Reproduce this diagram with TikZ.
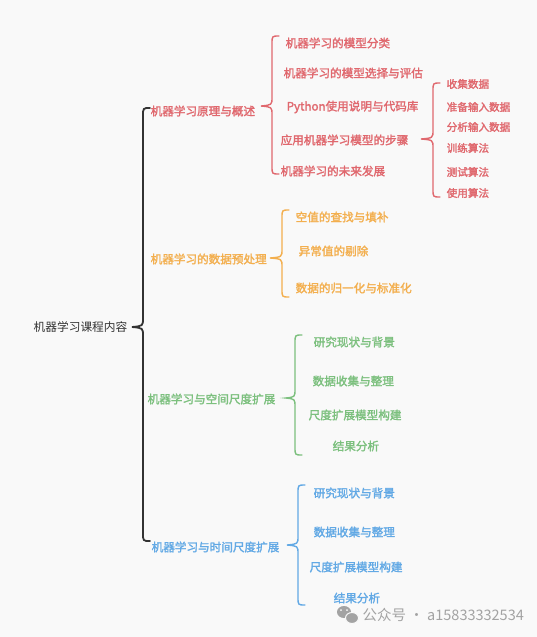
\documentclass[tikz,border=0pt]{standalone}
\usepackage{fontspec}
\setmainfont{Noto Sans CJK SC}
\newfontfamily\zhbold[FakeBold=2]{Noto Sans CJK SC}
\usepackage{tikz}
\usetikzlibrary{calc}
\definecolor{bgc}{HTML}{F9F9F9}
\definecolor{rootc}{HTML}{333333}
\definecolor{redc}{HTML}{E0686E}
\definecolor{orac}{HTML}{F3AF4E}
\definecolor{grnc}{HTML}{7CC07E}
\definecolor{bluc}{HTML}{62A9E5}
\definecolor{wmc}{HTML}{A3A3A3}
\tikzstyle{every node}=[inner sep=0pt,anchor=west]
\tikzstyle{lvl}=[font=\zhbold\fontsize{11.6}{13}\selectfont]
\tikzstyle{sub}=[font=\zhbold\fontsize{10.6}{12}\selectfont]
% curly brace: colour, top corner, tip, bottom corner
\newcommand{\mbrace}[4]{%
  \draw[#1] ($(#2)+(7,0)$) .. controls (#2) .. ($(#2)+(0,8)$)
    -- ($(#2|-#3)+(0,-9)$) .. controls ($(#2|-#3)+(0,-1)$) .. (#3)
    .. controls ($(#2|-#3)+(0,1)$) .. ($(#2|-#3)+(0,9)$)
    -- ($(#4)+(0,-8)$) .. controls (#4) .. ($(#4)+(7,0)$);}

\begin{document}
\begin{tikzpicture}[x=1pt,y=-1pt,line width=1.4pt,line cap=round]
\fill[bgc] (0,0) rectangle (537,637);
\useasboundingbox (0,0) rectangle (537,637);

% root
\node[font=\fontsize{11.7}{13}\selectfont,text=rootc] (root) at (33,327) {机器学习课程内容};
\coordinate (rt) at (143,108);
\coordinate (rm) at (132,327);
\coordinate (rb) at (143,541);
\mbrace{rootc,line width=1.8pt}{rt}{rm}{rb}

% first branch
\node[lvl,text=redc] (p1) at (150,111) {机器学习原理与概述};
\coordinate (p1t) at (272,36);
\coordinate (p1m) at (261,106);
\coordinate (p1b) at (272,174);
\mbrace{redc}{p1t}{p1m}{p1b}
\node[lvl,text=redc] (c11) at (285,43) {机器学习的模型分类};
\node[lvl,text=redc] (c12) at (283,73) {机器学习的模型选择与评估};
\node[lvl,text=redc] (c13) at (286,107) {Python使用说明与代码库};
\node[lvl,text=redc] (c14) at (280,140) {应用机器学习模型的步骤};
\node[lvl,text=redc] (c15) at (280,171) {机器学习的未来发展};
\coordinate (c14t) at (433,83);
\coordinate (c14m) at (421,139);
\coordinate (c14b) at (433,197);
\mbrace{redc}{c14t}{c14m}{c14b}
\node[sub,text=redc] (s1) at (446,84) {收集数据};
\node[sub,text=redc] (s2) at (446,107) {准备输入数据};
\node[sub,text=redc] (s3) at (446,127) {分析输入数据};
\node[sub,text=redc] (s4) at (446,148) {训练算法};
\node[sub,text=redc] (s5) at (446,172) {测试算法};
\node[sub,text=redc] (s6) at (446,193) {使用算法};

% second branch
\node[lvl,text=orac] (p2) at (150,259) {机器学习的数据预处理};
\coordinate (p2t) at (282,210);
\coordinate (p2m) at (270,258);
\coordinate (p2b) at (282,297);
\mbrace{orac}{p2t}{p2m}{p2b}
\node[lvl,text=orac] (c21) at (295,217) {空值的查找与填补};
\node[lvl,text=orac] (c22) at (298,251) {异常值的剔除};
\node[lvl,text=orac] (c23) at (295,288) {数据的归一化与标准化};

% third branch
\node[lvl,text=grnc] (p3) at (147,399) {机器学习与空间尺度扩展};
\coordinate (p3t) at (295,335);
\coordinate (p3m) at (286,398);
\coordinate (p3b) at (295,455);
\mbrace{grnc}{p3t}{p3m}{p3b}
\node[lvl,text=grnc] (c31) at (313,342) {研究现状与背景};
\node[lvl,text=grnc] (c32) at (312,381) {数据收集与整理};
\node[lvl,text=grnc] (c33) at (308,415) {尺度扩展模型构建};
\node[lvl,text=grnc] (c34) at (332,446) {结果分析};

% fourth branch
\node[lvl,text=bluc] (p4) at (151,547) {机器学习与时间尺度扩展};
\coordinate (p4t) at (298,485);
\coordinate (p4m) at (287,545);
\coordinate (p4b) at (298,605);
\mbrace{bluc}{p4t}{p4m}{p4b}
\node[lvl,text=bluc] (c41) at (313,493) {研究现状与背景};
\node[lvl,text=bluc] (c42) at (313,532) {数据收集与整理};
\node[lvl,text=bluc] (c43) at (309,567) {尺度扩展模型构建};
\node[lvl,text=bluc] (c44) at (333,598) {结果分析};

% watermark
\fill[wmc] (344,612) ellipse (7 and 6);
\fill[wmc,draw=bgc,line width=1pt] (352,618) ellipse (6.5 and 5.5);
\fill[bgc] (341,610) circle (1) (347,610) circle (1);
\node[font=\fontsize{14.5}{16}\selectfont,text=wmc] (wm) at (362,615) {公众号 · a15833332534};
\end{tikzpicture}
\end{document}
